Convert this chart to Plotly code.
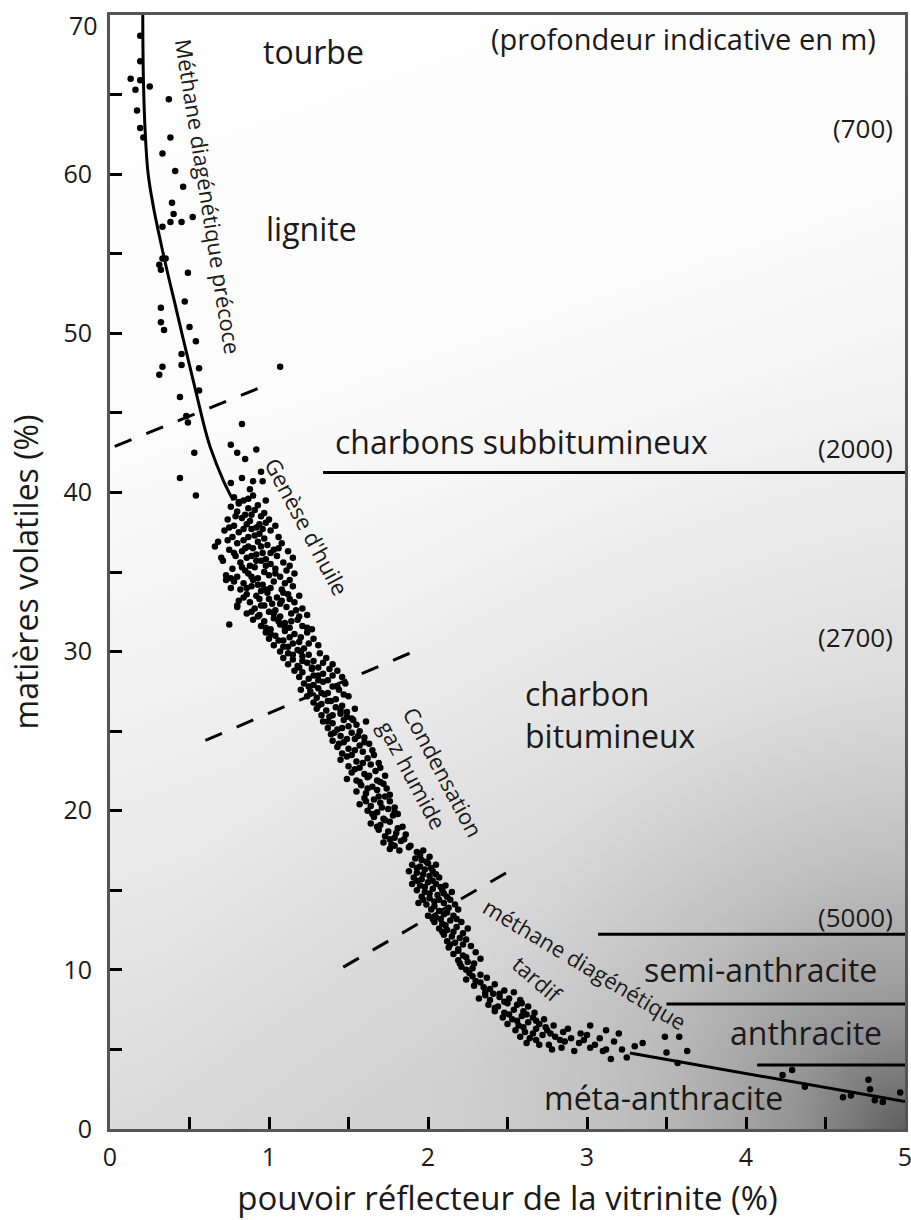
import base64
import plotly.graph_objects as go

# points: (vitrinite reflectance %, volatile matter %)
pts_lignite = [
    (0.19, 68.7), (0.19, 67.1), (0.13, 66.0), (0.19, 65.9), (0.16, 65.3), (0.25, 65.5),
    (0.37, 64.7), (0.17, 64.0), (0.19, 62.9), (0.21, 62.3), (0.38, 62.3), (0.33, 61.3),
    (0.41, 60.2), (0.46, 59.2), (0.39, 58.2), (0.40, 57.5), (0.38, 57.0), (0.45, 57.0),
    (0.52, 57.3), (0.33, 56.7), (0.33, 54.7), (0.35, 54.7), (0.31, 54.3), (0.32, 54.0),
    (0.49, 53.8), (0.47, 52.0), (0.32, 51.6), (0.32, 50.7), (0.34, 50.2), (0.50, 50.4),
    (0.54, 49.5), (0.45, 48.7), (0.33, 47.9), (0.31, 47.4), (0.45, 48.0), (0.56, 47.8),
    (1.07, 47.9), (0.56, 46.4), (0.44, 46.0), (0.48, 44.8), (0.49, 44.4), (0.83, 44.3),
    (0.76, 43.0), (0.80, 42.5), (0.85, 42.1), (0.92, 42.7), (0.53, 42.5), (0.44, 40.9),
    (0.83, 40.9), (0.90, 40.7), (0.95, 41.3), (0.96, 40.7), (0.54, 39.8), (0.76, 40.6),
    (0.88, 40.2), (0.98, 39.5),
]

pts_huile = [
    (0.78, 39.7), (0.84, 39.5), (0.90, 39.8), (0.76, 39.1), (0.81, 39.3), (0.87, 39.0),
    (0.93, 39.2), (0.80, 38.8), (0.85, 38.6), (0.91, 38.9), (0.97, 38.7), (0.74, 38.3),
    (0.83, 38.4), (0.88, 38.2), (0.95, 38.5), (1.00, 38.3), (0.78, 37.9), (0.86, 38.0),
    (0.92, 37.8), (0.98, 38.1), (1.04, 37.9), (0.72, 37.6), (0.81, 37.5), (0.89, 37.7),
    (0.94, 37.4), (1.01, 37.6), (0.77, 37.2), (0.84, 37.0), (0.91, 37.3), (0.97, 37.1),
    (1.06, 37.2), (0.68, 36.9), (0.80, 36.8), (0.87, 36.6), (0.93, 36.9), (0.99, 36.7),
    (1.08, 36.8), (0.75, 36.4), (0.83, 36.3), (0.90, 36.5), (0.96, 36.2), (1.03, 36.4),
    (1.12, 36.3), (0.79, 36.0), (0.86, 35.9), (0.92, 36.1), (0.98, 35.8), (1.05, 36.0),
    (1.15, 35.9), (0.71, 35.7), (0.82, 35.6), (0.88, 35.4), (0.95, 35.7), (1.01, 35.5),
    (1.09, 35.6), (0.77, 35.2), (0.85, 35.1), (0.91, 35.3), (0.97, 35.0), (1.04, 35.2),
    (1.11, 35.1), (0.73, 34.8), (0.80, 34.7), (0.87, 34.9), (0.93, 34.6), (1.00, 34.8),
    (1.07, 34.7), (1.16, 34.9), (0.78, 34.4), (0.84, 34.3), (0.90, 34.5), (0.96, 34.2),
    (1.03, 34.4), (1.10, 34.3), (0.76, 34.0), (0.82, 33.9), (0.89, 34.1), (0.95, 33.8),
    (1.01, 34.0), (1.08, 33.9), (1.15, 34.1), (0.86, 33.6), (0.92, 33.5), (0.99, 33.7),
    (1.05, 33.4), (1.12, 33.6), (1.19, 33.5), (0.81, 33.2), (0.88, 33.1), (0.94, 33.3),
    (1.02, 33.0), (1.08, 33.2), (1.16, 33.1), (0.80, 32.8), (0.91, 32.7), (0.97, 32.9),
    (1.04, 32.6), (1.11, 32.8), (1.21, 32.7), (0.86, 32.4), (0.94, 32.3), (1.00, 32.5),
    (1.07, 32.2), (1.14, 32.4), (1.24, 32.3), (0.90, 32.0), (0.97, 31.9), (1.03, 32.1),
    (1.10, 31.8), (1.18, 32.0), (0.75, 31.7), (0.95, 31.6), (1.01, 31.4), (1.07, 31.7),
    (1.13, 31.5), (1.21, 31.6), (1.27, 31.4), (0.98, 31.2), (1.04, 31.0), (1.10, 31.3),
    (1.16, 31.1), (1.24, 31.2), (1.00, 30.8), (1.06, 30.7), (1.13, 30.9), (1.19, 30.6),
    (1.28, 30.8), (1.03, 30.4), (1.09, 30.3), (1.15, 30.5), (1.22, 30.2), (1.31, 30.4),
    (1.07, 30.0), (1.12, 29.9), (1.18, 30.1), (1.25, 29.8), (1.09, 29.6), (1.15, 29.5),
    (1.21, 29.7), (1.28, 29.4), (1.36, 29.6), (1.12, 29.2), (1.18, 29.1), (1.24, 29.3),
    (1.31, 29.0), (1.40, 29.2), (1.16, 28.8), (1.21, 28.7), (1.27, 28.9), (1.34, 28.6),
    (1.43, 28.8), (1.19, 28.4), (1.25, 28.3), (1.31, 28.5), (1.37, 28.2), (1.46, 28.4),
    (0.81, 39.4), (0.87, 39.6), (0.79, 38.5), (0.89, 38.6), (0.94, 38.0), (0.75, 37.8),
    (0.84, 37.7), (0.96, 37.7), (0.87, 37.2), (0.74, 37.0), (0.95, 36.6), (0.85, 36.5),
    (1.06, 36.5), (0.78, 36.2), (0.89, 36.0), (1.01, 36.2), (0.92, 35.7), (0.83, 35.3),
    (0.98, 35.4), (1.13, 35.4), (0.76, 34.6), (0.89, 34.7), (1.04, 34.9), (0.93, 34.2),
    (1.13, 34.5), (0.86, 34.0), (0.98, 33.9), (1.09, 33.7), (0.84, 33.4), (1.00, 33.3),
    (1.13, 33.3), (0.95, 32.9), (1.07, 33.0), (1.17, 32.6), (0.89, 32.5), (1.03, 32.4),
    (1.19, 32.2), (0.93, 32.2), (1.06, 31.9), (1.14, 31.9), (0.98, 31.5), (1.10, 31.5),
    (1.24, 31.5), (1.01, 31.1), (1.20, 30.9), (1.09, 30.7), (1.25, 30.5), (1.12, 30.3),
    (1.20, 30.0), (1.15, 29.8), (1.32, 29.9), (1.21, 29.4), (1.34, 29.3), (1.27, 29.0),
    (1.19, 29.0), (1.38, 28.9), (1.28, 28.5), (1.40, 28.5), (0.73, 34.5), (0.80, 32.9),
    (0.70, 35.9), (0.66, 36.6),
]

pts_gaz = [
    (1.22, 28.0), (1.28, 27.9), (1.34, 28.1), (1.40, 27.8), (1.48, 28.0), (1.20, 27.6),
    (1.26, 27.5), (1.31, 27.7), (1.37, 27.4), (1.44, 27.6), (1.24, 27.2), (1.30, 27.1),
    (1.35, 27.3), (1.42, 27.0), (1.50, 27.2), (1.28, 26.8), (1.33, 26.7), (1.39, 26.9),
    (1.46, 26.6), (1.30, 26.4), (1.36, 26.3), (1.42, 26.5), (1.49, 26.2), (1.54, 26.4),
    (1.33, 26.0), (1.38, 25.9), (1.45, 26.1), (1.52, 25.8), (1.34, 25.6), (1.40, 25.5),
    (1.47, 25.7), (1.55, 25.4), (1.61, 25.6), (1.37, 25.2), (1.43, 25.1), (1.50, 25.3),
    (1.57, 25.0), (1.39, 24.8), (1.45, 24.7), (1.52, 24.9), (1.60, 24.6), (1.40, 24.4),
    (1.47, 24.3), (1.54, 24.5), (1.63, 24.2), (1.43, 24.0), (1.50, 23.9), (1.57, 24.1),
    (1.65, 23.8), (1.46, 23.6), (1.52, 23.5), (1.59, 23.7), (1.45, 23.2), (1.55, 23.1),
    (1.62, 23.3), (1.69, 23.0), (1.50, 22.8), (1.57, 22.7), (1.64, 22.9), (1.52, 22.4),
    (1.60, 22.3), (1.67, 22.5), (1.73, 22.2), (1.49, 22.0), (1.55, 21.9), (1.62, 22.1),
    (1.70, 21.8), (1.58, 21.6), (1.65, 21.5), (1.72, 21.7), (1.55, 21.2), (1.61, 21.1),
    (1.68, 21.3), (1.76, 21.0), (1.60, 20.8), (1.66, 20.7), (1.73, 20.9), (1.57, 20.4),
    (1.64, 20.3), (1.70, 20.5), (1.79, 20.2), (1.62, 20.0), (1.68, 19.9), (1.75, 20.1),
    (1.81, 19.8), (1.66, 19.6), (1.72, 19.5), (1.78, 19.7), (1.64, 19.2), (1.70, 19.1),
    (1.76, 19.3), (1.84, 19.0), (1.69, 18.8), (1.75, 18.7), (1.81, 18.9), (1.73, 18.4),
    (1.79, 18.3), (1.86, 18.5), (1.72, 18.0), (1.77, 17.9), (1.83, 18.1), (1.89, 17.8),
    (1.76, 17.6), (1.82, 17.5), (1.88, 17.7),
    (1.31, 28.2), (1.25, 27.8), (1.43, 27.8), (1.33, 27.4), (1.47, 27.3), (1.37, 26.9),
    (1.31, 26.6), (1.45, 26.3), (1.40, 26.0), (1.49, 25.9), (1.37, 25.6), (1.53, 25.7),
    (1.46, 25.2), (1.41, 24.9), (1.56, 24.7), (1.49, 24.5), (1.44, 24.2), (1.60, 24.3),
    (1.54, 23.8), (1.49, 23.4), (1.66, 23.5), (1.59, 23.0), (1.54, 22.6), (1.70, 22.7),
    (1.63, 22.2), (1.57, 21.8), (1.68, 21.9), (1.62, 21.4), (1.74, 21.4), (1.69, 20.9),
    (1.61, 20.6), (1.76, 20.6), (1.71, 20.2), (1.65, 19.8), (1.79, 19.9), (1.73, 19.4),
    (1.68, 19.0), (1.80, 18.6), (1.76, 18.2), (1.85, 18.2), (1.79, 17.8),
]

pts_tardif = [
    (1.93, 17.4), (1.97, 17.5), (1.92, 17.0), (1.96, 16.9), (2.01, 17.1), (1.90, 16.6),
    (1.95, 16.5), (2.00, 16.7), (2.05, 16.6), (1.88, 16.2), (1.93, 16.1), (1.98, 16.3),
    (2.03, 16.2), (1.91, 15.8), (1.96, 15.7), (2.01, 15.9), (2.07, 15.8), (1.90, 15.4),
    (1.95, 15.3), (2.00, 15.5), (2.05, 15.4), (2.11, 15.3), (1.93, 15.0), (1.98, 14.9),
    (2.03, 15.1), (2.09, 15.0), (2.15, 14.9), (1.96, 14.6), (2.01, 14.5), (2.06, 14.7),
    (2.12, 14.6), (1.94, 14.2), (1.99, 14.1), (2.04, 14.3), (2.10, 14.2), (2.17, 14.1),
    (2.02, 13.8), (2.07, 13.7), (2.13, 13.9), (2.19, 13.8), (2.00, 13.4), (2.05, 13.3),
    (2.10, 13.5), (2.16, 13.4), (2.04, 13.0), (2.09, 12.9), (2.14, 13.1), (2.21, 13.0),
    (2.07, 12.6), (2.12, 12.5), (2.18, 12.7), (2.25, 12.6), (2.10, 12.2), (2.15, 12.1),
    (2.22, 12.3), (2.12, 11.8), (2.17, 11.7), (2.24, 11.9), (2.13, 11.4), (2.19, 11.3),
    (2.27, 11.5), (2.16, 11.0), (2.22, 10.9), (2.30, 11.1), (2.19, 10.6), (2.25, 10.5),
    (2.33, 10.7), (2.21, 10.2), (2.28, 10.1), (2.26, 9.8), (2.33, 9.7), (2.24, 9.4),
    (2.30, 9.3), (2.37, 9.5), (2.29, 9.0), (2.35, 8.9), (2.42, 9.1), (2.36, 8.6),
    (2.41, 8.5), (2.48, 8.7), (2.54, 8.6), (2.32, 8.2), (2.39, 8.1), (2.45, 8.3),
    (2.51, 8.2), (2.58, 8.1), (2.38, 7.8), (2.44, 7.7), (2.50, 7.9), (2.56, 7.8),
    (2.63, 7.7), (2.42, 7.4), (2.48, 7.3), (2.54, 7.5), (2.60, 7.4), (2.67, 7.3),
    (2.47, 7.0), (2.53, 6.9), (2.59, 7.1), (2.66, 7.0), (2.73, 6.9), (2.50, 6.6),
    (2.57, 6.5), (2.63, 6.7), (2.70, 6.6), (2.79, 6.5), (2.55, 6.2), (2.61, 6.1),
    (2.68, 6.3), (2.75, 6.2), (2.85, 6.1), (2.58, 5.8), (2.64, 5.7), (2.72, 5.9),
    (2.80, 5.8), (2.90, 5.7), (3.00, 5.9), (2.62, 5.4), (2.70, 5.3), (2.86, 5.5),
    (2.95, 5.4), (3.05, 5.3), (2.78, 5.0), (2.92, 4.9), (3.02, 5.1), (3.12, 5.0),
    (1.95, 17.2), (1.99, 16.8), (1.93, 16.4), (2.02, 16.4), (1.97, 16.0), (2.05, 16.0),
    (1.93, 15.6), (2.03, 15.6), (1.98, 15.2), (2.08, 15.2), (2.01, 14.8), (2.10, 14.8),
    (1.97, 14.4), (2.07, 14.4), (2.14, 14.4), (2.04, 14.0), (2.12, 13.6), (2.08, 13.2),
    (2.03, 13.2), (2.18, 13.2), (2.11, 12.8), (2.16, 12.4), (2.09, 12.4), (2.20, 12.0),
    (2.14, 11.6), (2.22, 11.6), (2.19, 11.2), (2.24, 10.8), (2.20, 10.4), (2.29, 10.4),
    (2.24, 10.0), (2.28, 9.6), (2.33, 9.2), (2.39, 8.8), (2.45, 8.5), (2.36, 8.4),
    (2.48, 8.0), (2.42, 7.6), (2.59, 7.9), (2.51, 7.2), (2.62, 7.2), (2.56, 6.8),
    (2.68, 6.8), (2.60, 6.4), (2.74, 6.4), (2.66, 6.0), (2.77, 6.0), (2.68, 5.6),
    (2.83, 5.6), (2.76, 5.3), (2.98, 5.6), (2.84, 5.1),
]

pts_anthracite = [
    (2.88, 6.3), (2.96, 6.0), (3.02, 6.5), (3.08, 5.7), (3.12, 6.2), (3.17, 5.5),
    (3.20, 6.0), (3.22, 5.0), (3.25, 4.5), (3.15, 4.4), (3.10, 4.9), (3.30, 5.2),
    (3.35, 5.4), (3.49, 5.8), (3.58, 5.8), (3.50, 4.8), (3.63, 4.9), (3.57, 4.15),
    (4.23, 3.4), (4.29, 3.7), (4.37, 2.65), (4.61, 2.0), (4.66, 2.1), (4.77, 3.1),
    (4.78, 2.5), (4.81, 1.8), (4.86, 1.7), (4.97, 2.3),
]

# trend curve (upper part) and straight trend (anthracite part)
curve_x = [0.206, 0.21, 0.222, 0.24, 0.272, 0.30, 0.355, 0.405, 0.452, 0.50, 0.553, 0.597,
           0.632, 0.715, 0.775]
curve_y = [70.0, 66.0, 62.5, 60.0, 58.0, 56.6, 54.1, 52.0, 50.0, 48.0, 45.8, 44.0,
           42.8, 40.7, 39.5]
trend_x = [3.27, 5.0]
trend_y = [4.77, 1.73]

# dashed boundaries between generation windows
dash_lines = [
    ([0.03, 1.01], [42.9, 46.85]),
    ([0.60, 1.97], [24.42, 30.26]),
    ([1.467, 2.563], [10.17, 16.51]),
]

# rank boundaries (y level, start x)
rank_y = [41.26, 12.24, 7.85, 4.02]
rank_x0 = [1.34, 3.07, 3.50, 4.07]

y_ticks = [0, 10, 20, 30, 40, 50, 60]

FONT = 'Open Sans'
INK = '#1a1a1a'

# white-to-grey shading of the plot area
svg = """<svg xmlns='http://www.w3.org/2000/svg' width='795' height='1115' viewBox='0 0 795 1115' preserveAspectRatio='none'>
<defs>
<linearGradient id='v' x1='0' y1='0' x2='0.25' y2='1'>
<stop offset='0' stop-color='#ffffff'/><stop offset='0.4' stop-color='#fafafa'/>
<stop offset='0.7' stop-color='#ebebeb'/><stop offset='1' stop-color='#d6d6d6'/>
</linearGradient>
<radialGradient id='r' gradientUnits='userSpaceOnUse' cx='795' cy='1115' r='760'>
<stop offset='0' stop-color='#404040' stop-opacity='0.8'/>
<stop offset='0.15' stop-color='#606060' stop-opacity='0.55'/>
<stop offset='0.35' stop-color='#808080' stop-opacity='0.3'/>
<stop offset='0.6' stop-color='#999999' stop-opacity='0.1'/>
<stop offset='1' stop-color='#999999' stop-opacity='0'/>
</radialGradient>
</defs>
<rect width='795' height='1115' fill='url(#v)'/>
<rect width='795' height='1115' fill='url(#r)'/>
</svg>"""
bg_src = 'data:image/svg+xml;base64,' + base64.b64encode(svg.encode()).decode()

fig = go.Figure()

all_pts = pts_lignite + pts_huile + pts_gaz + pts_tardif + pts_anthracite
fig.add_trace(go.Scatter(
    x=[p[0] for p in all_pts],
    y=[p[1] for p in all_pts],
    mode='markers',
    marker={'color': 'black', 'size': 6.5, 'line': {'width': 0}},
))

fig.add_trace(go.Scatter(x=curve_x, y=curve_y, mode='lines',
                         line={'color': 'black', 'width': 3, 'shape': 'spline'}))
fig.add_trace(go.Scatter(x=trend_x, y=trend_y, mode='lines',
                         line={'color': 'black', 'width': 3}))

for xs, ys in dash_lines:
    fig.add_trace(go.Scatter(x=xs, y=ys, mode='lines',
                             line={'color': 'black', 'width': 3, 'dash': '18px,16px'}))

for y0, x0 in zip(rank_y, rank_x0):
    fig.add_trace(go.Scatter(x=[x0, 5], y=[y0, y0], mode='lines',
                             line={'color': 'black', 'width': 3}))

labels = [
    # text, x, y, size, angle, xanchor
    ('tourbe', 1.28, 67.7, 32, 0, 'center'),
    ('lignite', 1.27, 56.6, 32, 0, 'center'),
    ('charbons subbitumineux', 2.59, 43.2, 32, 0, 'center'),
    ('charbon<br>bitumineux', 2.60, 26.05, 32, 0, 'left'),
    ('semi-anthracite', 4.09, 10.04, 32, 0, 'center'),
    ('anthracite', 4.38, 6.09, 32, 0, 'center'),
    ('méta-anthracite', 3.48, 1.95, 32, 0, 'center'),
    ('Méthane diagénétique précoce', 0.617, 58.6, 22, 81, 'center'),
    ("Genèse d'huile", 1.24, 37.9, 22, 62, 'center'),
    ('Condensation<br>gaz humide', 2.015, 22.0, 22, 62, 'center'),
    ('méthane diagénétique', 2.99, 10.36, 22, 31, 'center'),
    ('tardif', 2.69, 9.4, 22, 41, 'center'),
]
for text, x, y, size, angle, anchor in labels:
    fig.add_annotation(x=x, y=y, text=text, showarrow=False, textangle=angle,
                       xanchor=anchor, yanchor='middle', align='left',
                       font={'family': FONT, 'size': size, 'color': INK})

depths = [('(profondeur indicative en m)', 4.83, 68.5, 29), ('(700)', 4.94, 62.9, 26),
          ('(2000)', 4.94, 42.8, 26), ('(2700)', 4.94, 30.9, 26), ('(5000)', 4.94, 13.3, 26)]
for text, x, y, size in depths:
    fig.add_annotation(x=x, y=y, text=text, showarrow=False, xanchor='right',
                       yanchor='middle', font={'family': FONT, 'size': size, 'color': INK})

# top "70" label sits just under the frame corner, as in the original
fig.add_annotation(x=0, y=69.4, text='70', showarrow=False, xanchor='right', yanchor='middle',
                   xshift=-10, font={'family': FONT, 'size': 25, 'color': INK})

fig.add_layout_image(source=bg_src, xref='x', yref='y', x=0, y=70, sizex=5, sizey=70,
                     xanchor='left', yanchor='top', sizing='stretch', layer='below')

axis_common = dict(
    showgrid=False, zeroline=False, showline=True, mirror=True,
    linecolor='#555555', linewidth=3, ticks='inside', ticklen=12, tickwidth=3,
    tickcolor='black', automargin=False, ticklabeloverflow='allow',
    tickfont={'family': FONT, 'size': 25, 'color': INK},
)

fig.update_xaxes(range=[0, 5], dtick=1, tick0=0, ticklabelstandoff=4,
                 minor={'dtick': 0.5, 'ticks': 'inside', 'ticklen': 12, 'tickwidth': 3,
                        'tickcolor': 'black'},
                 title={'text': 'pouvoir réflecteur de la vitrinite (%)', 'standoff': 18,
                        'font': {'family': FONT, 'size': 33, 'color': INK}},
                 **axis_common)
fig.update_yaxes(range=[0, 70], tickvals=y_ticks, ticklabelstandoff=10,
                 minor={'dtick': 5, 'tick0': 0, 'ticks': 'inside', 'ticklen': 12,
                        'tickwidth': 3, 'tickcolor': 'black'},
                 title={'text': 'matières volatiles (%)', 'standoff': 16,
                        'font': {'family': FONT, 'size': 32, 'color': INK}},
                 **axis_common)

fig.update_layout(
    width=911, height=1220,
    margin={'l': 110, 'r': 6, 't': 15, 'b': 91},
    showlegend=False,
    plot_bgcolor='rgba(0,0,0,0)',
    paper_bgcolor='white',
)

# the page body has a default margin; remove it so the figure fills the window
fig.write_html('out.html', config={'displayModeBar': False},
               post_script="document.body.style.margin='0';")
